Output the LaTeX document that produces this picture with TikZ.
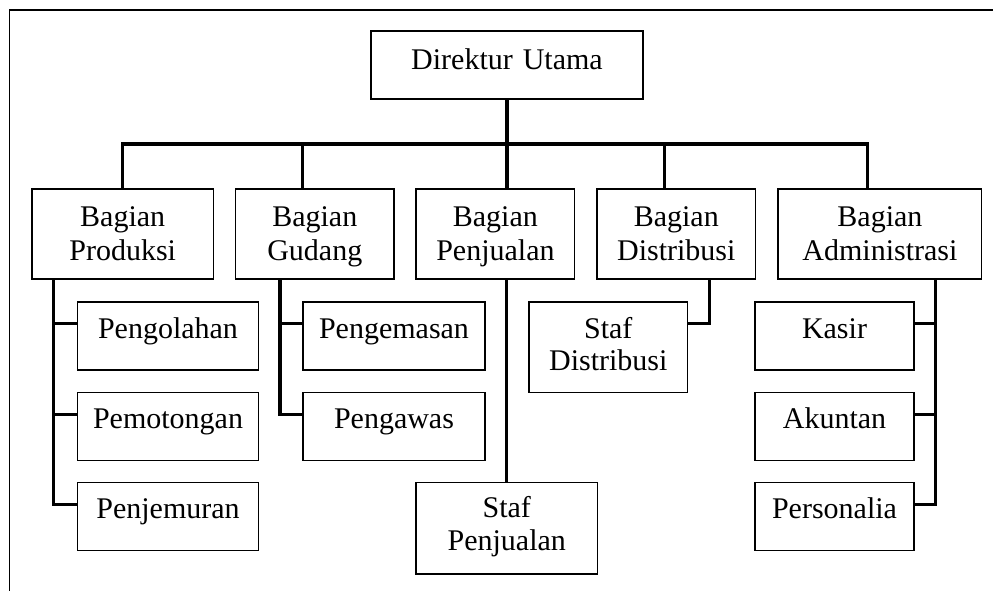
\documentclass[tikz,border=0pt]{standalone}
\usepackage{fontspec}
\setmainfont{Liberation Serif}
\begin{document}
\begin{tikzpicture}[x=1pt,y=-1pt,
  box/.style={draw, line width=1.3pt, inner sep=0pt, align=center, anchor=base,
    font=\fontsize{30}{34}\selectfont},
  subbox/.style={box, text height=36.5pt, text depth=31.5pt},
  bagbox/.style={box, text height=37pt, text depth=53pt},
  stafbox/.style={box, font=\fontsize{30}{32.5}\selectfont},
  conn/.style={line width=3.3pt},
  frame/.style={line width=1.5pt}
]
\useasboundingbox (0,0) rectangle (993,590);
\draw[frame] (9.3,591) -- (9.3,10) -- (994,10);

% top
\node[box, text width=272pt, text height=38pt, text depth=30pt] (dir) at (507,69) {Direktur Utama};

% bagian
\node[bagbox, text width=181.3pt] (prod) at (122.7,226) {Bagian\\Produksi};
\node[bagbox, text width=158.3pt] (gud) at (314.8,226) {Bagian\\Gudang};
\node[bagbox, text width=158.7pt] (pen) at (495.4,226) {Bagian\\Penjualan};
\node[bagbox, text width=158.7pt] (dis) at (676.3,226) {Bagian\\Distribusi};
\node[bagbox, text width=203.7pt] (adm) at (879.9,226) {Bagian\\Administrasi};

% produksi subs
\node[subbox, text width=181.4pt] (pol) at (168,338.5) {Pengolahan};
\node[subbox, text width=181.4pt] (pot) at (168,428.8) {Pemotongan};
\node[subbox, text width=181.4pt] (pjm) at (168,518.8) {Penjemuran};

% gudang subs
\node[subbox, text width=182pt] (pgm) at (394,338.5) {Pengemasan};
\node[subbox, text width=182pt] (pgw) at (394,428.8) {Pengawas};

% penjualan sub
\node[stafbox, text width=181.7pt, text height=35.4pt, text depth=56.3pt] (sp) at (506.8,517.7) {Staf\\Penjualan};

% distribusi sub
\node[stafbox, text width=158.7pt, text height=36.3pt, text depth=54.2pt] (sd) at (608.3,338.3) {Staf\\Distribusi};

% administrasi subs
\node[subbox, text width=159pt] (kas) at (834.5,338.5) {Kasir};
\node[subbox, text width=159pt] (aku) at (834.5,428.8) {Akuntan};
\node[subbox, text width=159pt] (per) at (834.5,518.8) {Personalia};

% top connectors
\coordinate (bus) at (dir.south |- 0,144);
\draw[conn] (dir.south) -- (dir.south |- pen.north);
\draw[conn] (prod.north) |- (bus) -| ([xshift=90.3pt]adm.north west);
\draw[conn] ([xshift=67.6pt]gud.north west) |- (bus);
\draw[conn] ([xshift=68pt]dis.north west) |- (bus);

% produksi
\draw[conn] ([xshift=22.3pt]prod.south west) |- ([yshift=-22.7pt]pjm.north west);
\draw[conn] ([yshift=-22pt]pol.north west) -- ++(-23pt,0);
\draw[conn] ([yshift=-22.7pt]pot.north west) -- ++(-23pt,0);

% gudang
\draw[conn] ([xshift=45pt]gud.south west) |- ([yshift=-22.7pt]pgw.north west);
\draw[conn] ([yshift=-22pt]pgm.north west) -- ++(-22.3pt,0);

% penjualan
\draw[conn] (sp.north) -- (sp.north |- pen.south);

% distribusi
\draw[conn] ([xshift=113pt]dis.south west) |- ([yshift=-22pt]sd.north east);

% administrasi
\draw[conn] ([xshift=158pt]adm.south west) |- ([yshift=-22.7pt]per.north east);
\draw[conn] ([yshift=-22pt]kas.north east) -- ++(22pt,0);
\draw[conn] ([yshift=-22.7pt]aku.north east) -- ++(22pt,0);
\end{tikzpicture}
\end{document}
